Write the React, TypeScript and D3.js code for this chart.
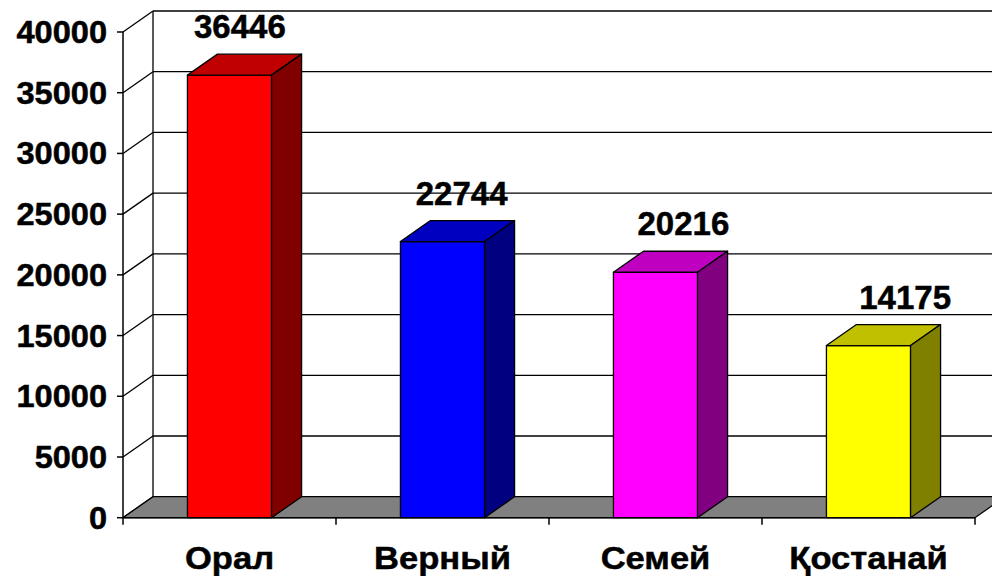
import React from "react";
import * as d3 from "d3";

const categories = ["Орал", "Верный", "Семей", "Қостанай"];
const values = [36446, 22744, 20216, 14175];
const yTicks = [0, 5000, 10000, 15000, 20000, 25000, 30000, 35000, 40000];
const frontColors = ["#FF0000", "#0000FF", "#FF00FF", "#FFFF00"];
const topColors = ["#C00000", "#0000C0", "#C000C0", "#C0C000"];
const sideColors = ["#800000", "#000080", "#800080", "#808000"];

const W = 992;
const H = 576;
const DX = 30;
const DY = -21;
const FONT = "'Liberation Sans', Arial, sans-serif";

export default function App() {
  const y = d3.scaleLinear().domain([0, 40000]).range([517.7, 32]);
  const x = d3
    .scaleBand<string>()
    .domain(categories)
    .range([123, 975])
    .paddingInner(0)
    .paddingOuter(0);
  // data labels in the reference are spread slightly wider than the bars
  const xLabel = d3
    .scaleBand<string>()
    .domain(categories)
    .range([129, 1016]);
  const step = x.step();
  const barW = step * 0.395;
  const x0 = 123;
  const x1 = 975;
  const y0 = y(0);
  const pts = (arr: number[][]) => arr.map((p) => p.join(",")).join(" ");

  return (
    <svg
      width={W}
      height={H}
      style={{ position: "absolute", left: 0, top: 0, background: "#fff" }}
      fontFamily={FONT}
      fontWeight="bold"
    >
      {/* back wall gridlines */}
      {yTicks.map((t) => (
        <line
          key={"g" + t}
          x1={x0 + DX}
          x2={W + 40}
          y1={y(t) + DY}
          y2={y(t) + DY}
          stroke="#000"
          strokeWidth={1.3}
        />
      ))}
      {/* left wall */}
      <line x1={x0 + DX} x2={x0 + DX} y1={y(40000) + DY} y2={y0 + DY} stroke="#000" strokeWidth={1.3} />
      {yTicks.map((t) => (
        <line
          key={"d" + t}
          x1={x0}
          y1={y(t)}
          x2={x0 + DX}
          y2={y(t) + DY}
          stroke="#000"
          strokeWidth={1.3}
        />
      ))}
      {/* floor */}
      <polygon
        points={pts([
          [x0, y0],
          [x1, y0],
          [x1 + DX, y0 + DY],
          [x0 + DX, y0 + DY],
        ])}
        fill="#808080"
        stroke="#000"
        strokeWidth={1.3}
      />
      {/* front y axis */}
      <line x1={x0} x2={x0} y1={y(40000)} y2={y0} stroke="#000" strokeWidth={1.5} />
      {yTicks.map((t) => (
        <line key={"t" + t} x1={x0 - 6} x2={x0} y1={y(t)} y2={y(t)} stroke="#000" strokeWidth={1.5} />
      ))}
      {/* category axis ticks */}
      <line x1={x0} x2={x1} y1={y0} y2={y0} stroke="#000" strokeWidth={1.5} />
      {[...categories.map((c) => x(c)!), x1].map((v, i) => (
        <line key={"c" + i} x1={v} x2={v} y1={y0} y2={y0 + 7} stroke="#000" strokeWidth={1.5} />
      ))}
      {/* bars */}
      {categories.map((c, i) => {
        const cx = x(c)! + step / 2;
        const bl = cx - barW / 2;
        const br = cx + barW / 2;
        const top = y(values[i]);
        return (
          <g key={c} stroke="#000" strokeWidth={1.3} strokeLinejoin="round">
            <rect x={bl} y={top} width={barW} height={y0 - top} fill={frontColors[i]} />
            <polygon
              points={pts([
                [bl, top],
                [br, top],
                [br + DX, top + DY],
                [bl + DX, top + DY],
              ])}
              fill={topColors[i]}
            />
            <polygon
              points={pts([
                [br, top],
                [br + DX, top + DY],
                [br + DX, y0 + DY],
                [br, y0],
              ])}
              fill={sideColors[i]}
            />
          </g>
        );
      })}
      {/* value labels */}
      {categories.map((c, i) => {
        const cx = xLabel(c)! + xLabel.step() / 2;
        const ty = y(values[i]) + DY - 16;
        return (
          <text
            key={"v" + c}
            transform={`translate(${cx},${ty})`}
            textAnchor="middle"
            fontSize={33}
            fill="#000"
            stroke="#000"
            strokeWidth={0.5}
          >
            {values[i]}
          </text>
        );
      })}
      {/* y labels */}
      {yTicks.map((t) => (
        <text
          key={"yl" + t}
          transform={`translate(107,${y(t) + 11}) scale(1.05,1)`}
          textAnchor="end"
          fontSize={31}
          fill="#000"
          stroke="#000"
          strokeWidth={0.5}
        >
          {t}
        </text>
      ))}
      {/* category labels */}
      {categories.map((c) => (
        <text
          key={"cl" + c}
          transform={`translate(${x(c)! + step / 2},569) scale(1.08,1)`}
          textAnchor="middle"
          fontSize={32}
          fill="#000"
          stroke="#000"
          strokeWidth={0.5}
        >
          {c}
        </text>
      ))}
    </svg>
  );
}
